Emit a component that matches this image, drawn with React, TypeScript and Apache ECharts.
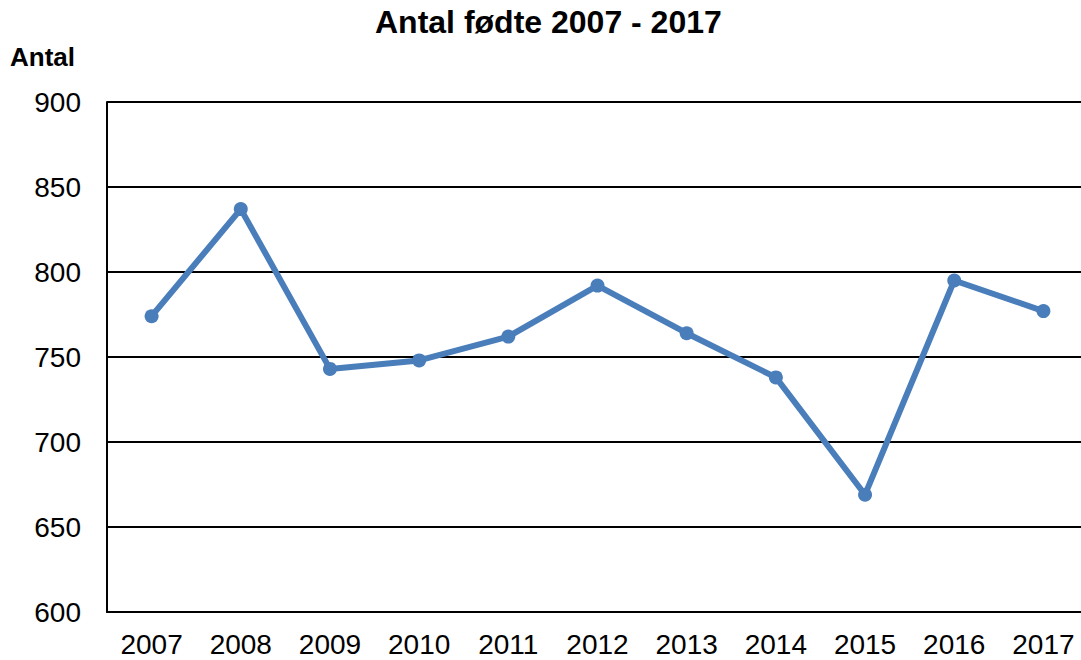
import React, { useEffect, useRef } from "react";
import * as echarts from "echarts";

const years = ["2007", "2008", "2009", "2010", "2011", "2012", "2013", "2014", "2015", "2016", "2017"];
const births = [774, 837, 743, 748, 762, 792, 764, 738, 669, 795, 777];
const titleText = "Antal fødte 2007 - 2017";
const yName = "Antal";

const FONT = "Liberation Sans, Arial, sans-serif";

export default function App() {
  const ref = useRef<HTMLDivElement>(null);
  useEffect(() => {
    const chart = echarts.init(ref.current!, null, { renderer: "svg" });
    chart.setOption({
      animation: false,
      backgroundColor: "#ffffff",
      textStyle: { fontFamily: FONT },
      title: {
        text: titleText,
        left: 370,
        top: 1,
        textStyle: { fontSize: 32, fontWeight: "bold", color: "#000", fontFamily: FONT },
      },
      graphic: [
        {
          type: "text",
          left: 10,
          top: 44,
          style: { text: yName, fontSize: 26, fontWeight: "bold", fill: "#000", fontFamily: FONT },
        },
      ],
      grid: { left: 107, top: 102, width: 981, height: 510, containLabel: false, outerBoundsMode: "none" },
      xAxis: {
        type: "category",
        data: years,
        boundaryGap: true,
        axisLine: { lineStyle: { color: "#000", width: 2 } },
        axisTick: { alignWithLabel: true, length: 6, lineStyle: { color: "#000", width: 2 } },
        axisLabel: { color: "#000", fontSize: 28, margin: 18, fontFamily: FONT },
        splitLine: { show: false },
      },
      yAxis: {
        type: "value",
        min: 600,
        max: 900,
        interval: 50,
        axisLine: { show: true, lineStyle: { color: "#000", width: 2 } },
        axisTick: { show: false },
        axisLabel: { color: "#000", fontSize: 28, margin: 26, fontFamily: FONT },
        splitLine: { show: true, lineStyle: { color: "#000", width: 2 } },
      },
      series: [
        {
          type: "line",
          data: births,
          symbol: "circle",
          symbolSize: 14,
          lineStyle: { color: "#4a7ebb", width: 6 },
          itemStyle: { color: "#4a7ebb" },
        },
      ],
    });
    return () => chart.dispose();
  }, []);
  return <div ref={ref} style={{ position: "fixed", left: 0, top: 0, width: 1081, height: 660 }} />;
}
